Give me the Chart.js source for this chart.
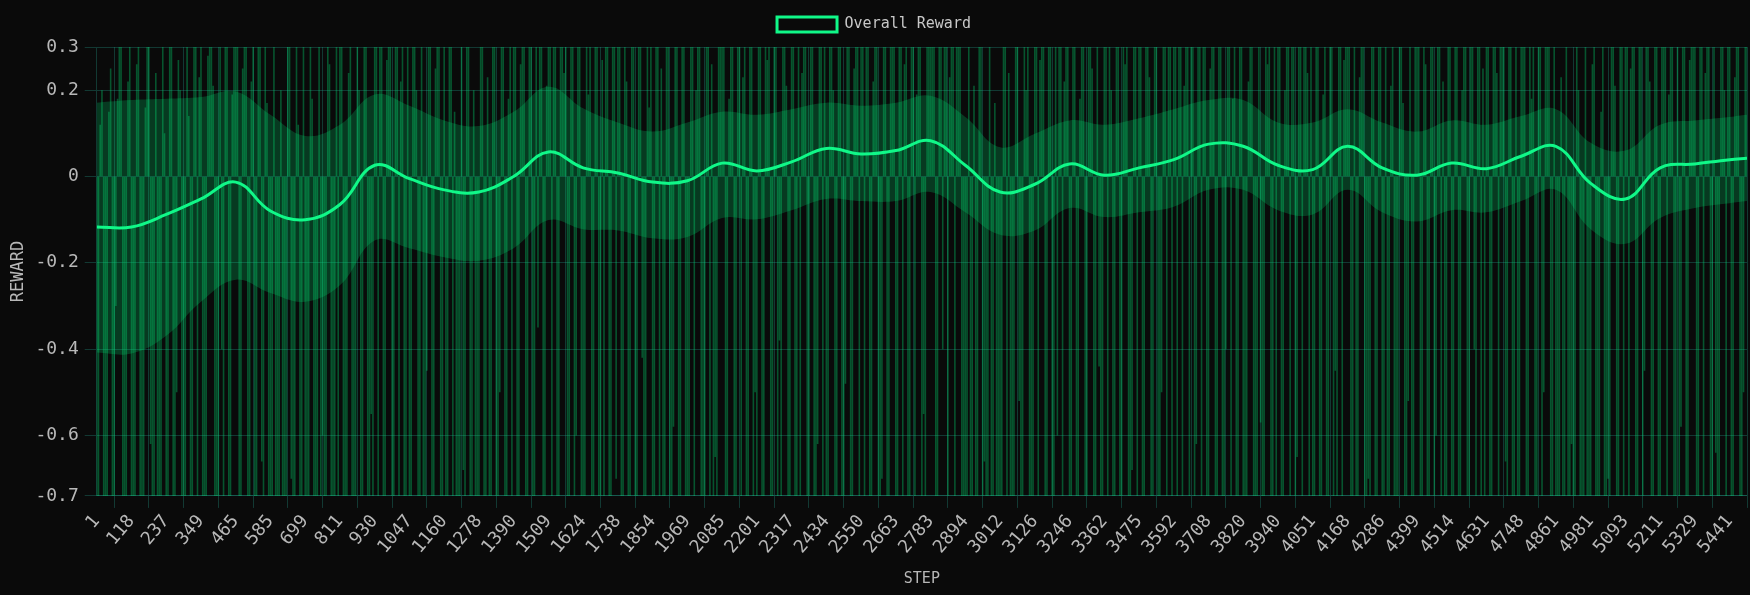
<!DOCTYPE html>
<html>
<head>
<meta charset="utf-8">
<script src="https://cdn.jsdelivr.net/npm/chart.js@4.4.1/dist/chart.umd.min.js"></script>
<style>
  html, body { margin: 0; padding: 0; background: #0a0a0a; }
  #wrap { width: 1750px; height: 595px; position: relative; }
</style>
</head>
<body>
<div id="wrap"><canvas id="rewardChart"></canvas></div>
<script>
// step shown under each x tick (one tick every 20 samples)
const stepLabels = [1, 118, 237, 349, 465, 585, 699, 811, 930, 1047, 1160, 1278, 1390, 1509, 1624, 1738,
    1854, 1969, 2085, 2201, 2317, 2434, 2550, 2663, 2783, 2894, 3012, 3126, 3246, 3362, 3475, 3592,
    3708, 3820, 3940, 4051, 4168, 4286, 4399, 4514, 4631, 4748, 4861, 4981, 5093, 5211, 5329, 5441];
const perTick = 20;

// raw reward per sample (bars)
const rewards = [
    -1,-1,.12,.2,-1,-1,-1,.15,.25,-1,-1,-.3,.18,1,1,-1,-1,-1,.22,1,
    -1,-1,-1,.26,1,-1,-1,-1,.16,1,1,-.62,-1,-1,.24,-1,-1,-1,1,.1,
    -1,-1,1,1,-1,-1,-.5,.27,.2,-1,-1,-1,1,.14,-1,-1,1,1,-1,.23,
    1,-1,-1,-1,.28,1,1,.21,-1,-1,-1,1,-.4,-1,1,1,-1,-1,.19,1,
    1,1,-1,-1,.25,1,1,-1,-1,.22,1,-1,-1,1,1,-.66,-1,1,.17,-1,
    -1,-1,1,-1,-1,-1,.2,-1,-1,-1,1,1,-.7,-1,-1,1,.12,-1,-1,1,
    -1,-1,-1,1,.18,-1,-1,-1,1,-1,-.6,-1,-1,1,.26,-1,-1,-1,1,-1,
    1,1,-1,-1,-1,.24,1,-1,-1,-1,1,.2,-1,-1,1,1,-1,-1,-.55,-1,
    1,1,-1,1,1,-1,-1,.27,1,1,-1,-1,1,1,-1,.22,1,-1,-1,1,
    -1,-1,1,1,.2,-1,-1,1,-1,-1,-.45,1,1,-1,-1,.25,1,1,-1,-1,
    1,-1,-1,1,1,-1,.15,-1,-1,-1,1,-.68,-1,1,1,-1,-1,.2,-1,-1,
    -1,1,1,-1,-1,.23,-1,-1,1,1,-1,-1,-.5,1,1,-1,-1,.18,1,-1,
    1,1,-1,-1,.26,1,1,-1,-1,1,1,-1,-1,1,-.35,1,1,-1,-1,.21,
    1,1,-1,1,1,-1,-1,1,1,.24,1,-1,-1,1,1,-1,-.6,1,1,-1,
    -1,-1,1,.19,1,-1,-1,1,1,-1,-1,.27,-1,1,1,-1,-1,1,1,-.7,
    1,1,-1,-1,1,.22,-1,-1,1,1,-1,-1,1,1,-.42,-1,-1,1,.16,1,
    -1,-1,1,1,-1,.25,-1,-1,1,1,-1,-1,-.58,1,1,-1,-1,1,1,-1,
    -1,-1,1,1,-1,.2,1,1,-1,-1,-1,1,1,-1,.26,-1,-.65,-1,1,1,
    1,1,-1,-1,.18,1,1,-1,-1,1,1,-1,.23,1,-1,-1,1,1,-1,-.5,
    -1,1,1,-1,-1,1,.27,1,-1,-1,1,1,-1,-.38,-1,1,1,.21,-1,-1,
    1,1,-1,-1,1,-1,.24,1,1,-1,-1,1,1,-1,-1,-.62,1,1,-1,1,
    -1,-1,1,1,.2,-1,-1,1,1,-1,-1,-.48,1,1,-1,-1,.25,1,1,-1,
    1,1,-1,1,1,-1,-1,.22,1,1,-1,-1,-.7,1,1,-1,-1,1,1,1,
    -1,-1,1,1,-1,.26,1,-1,-1,1,1,-1,.19,1,1,-1,-.55,-1,1,1,
    1,1,1,-1,-1,1,1,-.4,1,1,-1,.23,1,1,-1,1,1,1,-1,-1,
    -1,-1,1,-1,-1,.21,-1,-1,1,1,-1,-.66,-1,-1,1,-1,-1,.17,-1,-1,
    -1,-1,1,1,-1,.24,-1,-1,-1,1,1,-.52,-1,-1,1,.2,1,-1,-1,-1,
    1,1,-1,.27,1,1,-1,-1,1,1,-1,-1,1,-.6,1,1,-1,.22,1,1,
    -1,-1,1,1,-1,-1,.18,1,1,-1,-1,1,1,.25,-1,-1,1,-.44,-1,-1,
    1,1,-1,1,.2,-1,-1,1,1,-1,-1,1,.26,1,-1,-1,-.68,1,1,-1,
    1,1,-1,-1,1,1,.23,-1,-1,1,1,-1,-1,-.5,1,1,-1,1,1,-1,
    1,1,-1,1,1,-1,.21,1,1,-1,1,1,-1,-.62,1,1,-1,1,1,-1,
    -1,.25,1,1,-1,-1,1,1,-1,-1,-.4,1,1,-1,.18,1,-1,-1,1,1,
    -1,-1,-1,.22,1,1,-1,-1,-1,1,-.57,-1,-1,1,.26,1,-1,-1,1,-1,
    1,1,-1,-1,.2,1,1,-1,1,1,-1,-.65,1,1,-1,1,1,.24,-1,1,
    -1,-1,1,1,-1,-1,.19,1,-1,-1,1,1,-1,-.45,-1,1,1,-1,.27,1,
    1,1,-1,-1,1,-1,-1,.23,1,1,-1,-1,-.7,-1,1,1,-1,-1,1,1,
    -1,-1,1,-1,-1,.21,1,-1,-1,-1,1,1,.17,-1,-1,-.52,1,-1,-1,1,
    1,1,-1,-1,1,.26,-1,-1,1,1,-1,-.6,1,1,-1,.22,-1,-1,1,1,
    -1,-1,1,1,-1,-1,.2,1,1,-1,-1,1,1,-.4,-1,1,1,-1,.25,-1,
    1,1,-1,-1,1,1,.24,-1,1,1,1,-.66,-1,1,1,-1,-1,1,-1,-1,
    1,1,1,-1,-1,1,.18,1,-1,-1,1,1,-1,-.5,1,1,1,-1,-1,1,
    -1,-1,-1,.23,-1,-1,1,-1,-1,-.62,-1,-1,1,.2,-1,-1,-1,1,-1,-1,
    -1,.26,1,-1,-1,-1,.15,1,-1,-1,-.7,-1,1,1,.21,-1,-1,1,1,-1,
    1,1,-1,.25,1,1,-1,-1,1,1,-1,-.45,1,1,.22,-1,-1,1,1,-1,
    -1,1,1,1,-1,.19,1,1,-1,-1,1,-1,-.58,1,1,-1,-1,.27,1,1,
    1,-1,-1,1,1,-1,.24,1,1,-1,-1,1,-.64,-1,-1,1,1,.2,-1,1,
    1,-1,-1,.23,1,1,-1,-1,-.5,1,1
];

// smoothed reward and its band, sampled at every x tick plus the last sample
const meanReward = [-0.117, -0.117, -0.088, -0.052, -0.013, -0.08, -0.10, -0.065, 0.026, -0.005,
    -0.031, -0.036, 0.0, 0.057, 0.02, 0.008, -0.013, -0.01, 0.031, 0.013,
    0.034, 0.065, 0.052, 0.06, 0.083, 0.026, -0.036, -0.018, 0.029, 0.003,
    0.02, 0.039, 0.075, 0.07, 0.026, 0.016, 0.07, 0.02, 0.003, 0.031,
    0.018, 0.047, 0.07, -0.016, -0.052, 0.02, 0.029, 0.039, 0.042];
const bandUpper = [0.171, 0.177, 0.18, 0.184, 0.197, 0.143, 0.094, 0.12, 0.19, 0.164,
    0.13, 0.117, 0.15, 0.208, 0.158, 0.125, 0.104, 0.125, 0.15, 0.143,
    0.156, 0.171, 0.164, 0.171, 0.187, 0.138, 0.068, 0.099, 0.13, 0.12,
    0.135, 0.156, 0.177, 0.177, 0.125, 0.125, 0.156, 0.125, 0.104, 0.13,
    0.12, 0.14, 0.156, 0.078, 0.06, 0.12, 0.13, 0.138, 0.143];
const bandLower = [-0.408, -0.41, -0.369, -0.29, -0.239, -0.27, -0.29, -0.252, -0.148, -0.166,
    -0.187, -0.195, -0.166, -0.101, -0.122, -0.125, -0.143, -0.14, -0.096, -0.099,
    -0.078, -0.052, -0.057, -0.057, -0.036, -0.083, -0.135, -0.125, -0.073, -0.094,
    -0.083, -0.07, -0.031, -0.031, -0.078, -0.088, -0.031, -0.083, -0.104, -0.078,
    -0.083, -0.057, -0.031, -0.122, -0.156, -0.096, -0.073, -0.062, -0.057];

const yTickValues = [-0.74, -0.6, -0.4, -0.2, 0, 0.2, 0.3];

const lastIndex = rewards.length - 1;
const sampleIdx = stepLabels.map((s, j) => j * perTick).concat(lastIndex);
const toPoints = arr => arr.map((v, j) => ({ x: sampleIdx[j], y: v }));

const green = '#10f888';
const gridColor = 'rgba(40, 170, 150, 0.3)';
const textColor = '#b8b8b8';

Chart.defaults.font.family = "'DejaVu Sans Mono', monospace";
Chart.defaults.color = textColor;

// a bit more room under the legend
const legendGap = {
    id: 'legendGap',
    beforeInit(chart) {
        const fit = chart.legend.fit;
        chart.legend.fit = function () {
            fit.call(this);
            this.height += 5;
        };
    }
};

const rewardChart = document.getElementById('rewardChart').getContext('2d');

new Chart(rewardChart, {
    type: 'line',
    data: {
        datasets: [
            {
                label: 'Overall Reward',
                data: toPoints(meanReward),
                borderColor: green,
                backgroundColor: 'rgba(0, 0, 0, 0)',
                borderWidth: 3,
                pointRadius: 0,
                tension: 0.4,
                fill: false
            },
            {
                label: 'upper',
                data: toPoints(bandUpper),
                borderColor: 'transparent',
                borderWidth: 0,
                pointRadius: 0,
                tension: 0.4,
                backgroundColor: 'rgba(0, 230, 118, 0.22)',
                fill: '+1'
            },
            {
                label: 'lower',
                data: toPoints(bandLower),
                borderColor: 'transparent',
                borderWidth: 0,
                pointRadius: 0,
                tension: 0.4,
                fill: false
            },
            {
                type: 'bar',
                label: 'raw',
                data: rewards.map((v, i) => ({ x: i, y: v })),
                backgroundColor: 'rgba(0, 230, 118, 0.34)',
                borderWidth: 0,
                barPercentage: 0.92,
                categoryPercentage: 1,
                clip: 0
            }
        ]
    },
    options: {
        responsive: true,
        maintainAspectRatio: false,
        animation: false,
        layout: {
            padding: { top: 0, right: 3, bottom: 3, left: 1 }
        },
        plugins: {
            legend: {
                position: 'top',
                labels: {
                    boxWidth: 60,
                    boxHeight: 15,
                    padding: 17,
                    color: '#c8c8c8',
                    font: { size: 15 },
                    filter: item => item.datasetIndex === 0
                }
            },
            tooltip: { enabled: false }
        },
        scales: {
            x: {
                type: 'linear',
                min: 0,
                max: lastIndex,
                offset: false,
                grid: { color: gridColor, tickLength: 12 },
                border: { color: gridColor },
                afterBuildTicks: scale => {
                    scale.ticks = stepLabels.map((s, j) => ({ value: j * perTick }));
                },
                ticks: {
                    autoSkip: false,
                    minRotation: 50,
                    maxRotation: 50,
                    color: textColor,
                    font: { size: 18 },
                    callback: (v, i) => stepLabels[i]
                },
                title: {
                    display: true, text: 'STEP', color: textColor,
                    font: { size: 15 }, padding: { top: 9, bottom: 4 }
                }
            },
            y: {
                min: -0.74,
                max: 0.3,
                grid: { color: gridColor, tickLength: 12 },
                border: { color: gridColor },
                afterBuildTicks: scale => {
                    scale.ticks = yTickValues.map(v => ({ value: v }));
                },
                ticks: {
                    color: textColor,
                    padding: 6,
                    font: { size: 18 },
                    callback: v => v === 0 ? '0' : v.toFixed(1)
                },
                title: {
                    display: true, text: 'REWARD', color: textColor,
                    font: { size: 17 }, padding: { top: 7, bottom: 1 }
                }
            }
        }
    },
    plugins: [legendGap]
});
</script>
</body>
</html>
